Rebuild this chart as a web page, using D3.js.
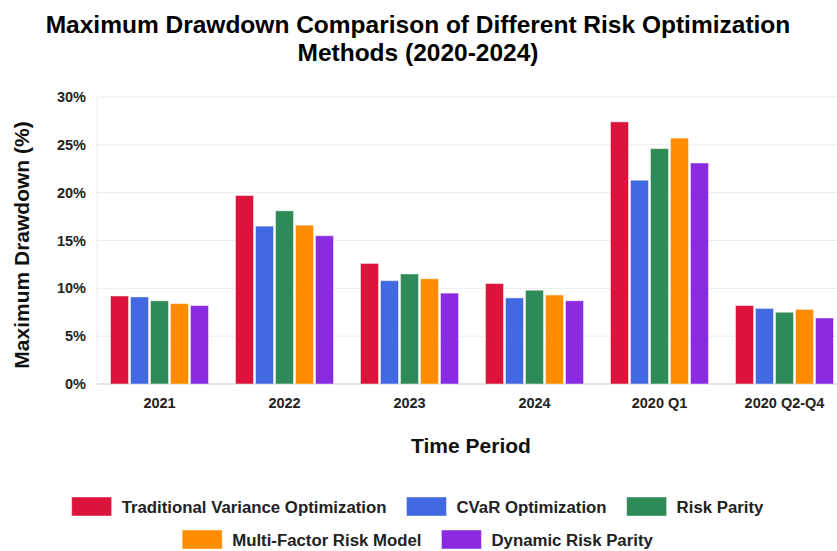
<!DOCTYPE html>
<html>
<head>
<meta charset="utf-8">
<script src="https://cdn.jsdelivr.net/npm/d3@7"></script>
<style>
  body { margin: 0; background: #fff; }
  svg { font-family: "Liberation Sans", Arial, sans-serif; }
</style>
</head>
<body>
<svg width="837" height="551"></svg>
<script>
let periods = ['2021', '2022', '2023', '2024', '2020 Q1', '2020 Q2-Q4']
let methods = ['Traditional Variance Optimization', 'CVaR Optimization', 'Risk Parity', 'Multi-Factor Risk Model', 'Dynamic Risk Parity']
let colors = ['#DC143C', '#4169E1', '#2E8B57', '#FF8C00', '#8A2BE2']

let traditional = [9.2, 19.7, 12.6, 10.5, 27.4, 8.2]
let cvar = [9.1, 16.5, 10.8, 9.0, 21.3, 7.9]
let riskParity = [8.7, 18.1, 11.5, 9.8, 24.6, 7.5]
let multiFactor = [8.4, 16.6, 11.0, 9.3, 25.7, 7.8]
let dynamicParity = [8.2, 15.5, 9.5, 8.7, 23.1, 6.9]
let yTicks = [0, 5, 10, 15, 20, 25, 30]

let series = [traditional, cvar, riskParity, multiFactor, dynamicParity]

let width = 837
let height = 551
let margin = { top: 97, bottom: 167, left: 97, right: 0 }

let svg = d3.select('svg')

// category band runs a little past the right edge, as in the original
let xScale = d3.scaleBand()
  .domain(periods)
  .range([margin.left, margin.left + 125 * periods.length])

let step = xScale.bandwidth()
let innerScale = d3.scaleBand()
  .domain(d3.range(methods.length))
  .range([step * 0.1, step * 0.9])
  .paddingInner(0.1)
  .paddingOuter(0.05)

let yScale = d3.scaleLinear()
  .domain([0, 30])
  .range([height - margin.bottom, margin.top])

// grid
svg.append('g')
  .selectAll('line')
  .data(yTicks)
  .enter()
  .append('line')
  .attr('x1', margin.left)
  .attr('x2', width - margin.right)
  .attr('y1', d => yScale(d))
  .attr('y2', d => yScale(d))
  .attr('stroke', d => d === 0 ? '#ddd' : '#ececec')
  .attr('stroke-width', d => d === 0 ? 1.5 : 1)

svg.append('line')
  .attr('x1', margin.left).attr('x2', margin.left)
  .attr('y1', margin.top).attr('y2', height - margin.bottom)
  .attr('stroke', '#ececec')

// bars
series.forEach((values, i) => {
  svg.append('g')
    .selectAll('rect')
    .data(values)
    .enter()
    .append('rect')
    .attr('x', (d, j) => xScale(periods[j]) + innerScale(i))
    .attr('width', innerScale.bandwidth())
    .attr('y', d => yScale(d))
    .attr('height', d => yScale(0) - yScale(d))
    .attr('fill', colors[i])
    .attr('stroke', 'rgba(255,255,255,0.45)')
    .attr('stroke-width', 1)
})

// axes
let yAxis = d3.axisLeft(yScale)
  .tickValues(yTicks)
  .tickFormat(d => d + '%')
  .tickSize(0)
  .tickPadding(11)

let yg = svg.append('g')
  .attr('transform', 'translate(' + [margin.left, 0] + ')')
  .call(yAxis)
yg.select('.domain').remove()
yg.selectAll('text')
  .attr('font-size', 14.5)
  .attr('font-weight', 'bold')
  .attr('fill', '#222')
  .attr('font-family', '"Liberation Sans", Arial, sans-serif')

let xAxis = d3.axisBottom(xScale)
  .tickSize(0)
  .tickPadding(14)

let xg = svg.append('g')
  .attr('transform', 'translate(' + [0, height - margin.bottom] + ')')
  .call(xAxis)
xg.select('.domain').remove()
xg.selectAll('text')
  .attr('font-size', 14.5)
  .attr('font-weight', 'bold')
  .attr('fill', '#222')
  .attr('font-family', '"Liberation Sans", Arial, sans-serif')

// titles
let title = svg.append('text')
  .attr('text-anchor', 'middle')
  .attr('font-size', 24.5)
  .attr('font-weight', 'bold')
  .attr('fill', '#000')
title.append('tspan').attr('x', 418).attr('y', 33)
  .text('Maximum Drawdown Comparison of Different Risk Optimization')
title.append('tspan').attr('x', 418).attr('y', 61)
  .text('Methods (2020-2024)')

svg.append('text')
  .attr('x', 471)
  .attr('y', 453)
  .attr('text-anchor', 'middle')
  .attr('font-size', 21)
  .attr('font-weight', 'bold')
  .attr('fill', '#111')
  .text('Time Period')

svg.append('text')
  .attr('transform', 'translate(29,245) rotate(-90)')
  .attr('text-anchor', 'middle')
  .attr('font-size', 21)
  .attr('font-weight', 'bold')
  .attr('fill', '#111')
  .text('Maximum Drawdown (%)')

// legend
let rows = [[0, 1, 2], [3, 4]]
let boxW = 40, boxH = 19, gap = 10, itemGap = 20, legendSize = 16.8
rows.forEach((row, r) => {
  let y = 497 + r * 33
  let widths = row.map(i => {
    let t = svg.append('text').attr('font-size', legendSize).attr('font-weight', 'bold').text(methods[i])
    let w = t.node().getComputedTextLength()
    t.remove()
    return boxW + gap + w
  })
  let total = d3.sum(widths) + itemGap * (row.length - 1)
  let x = 417.5 - total / 2
  row.forEach((i, k) => {
    svg.append('rect')
      .attr('x', x).attr('y', y)
      .attr('width', boxW).attr('height', boxH)
      .attr('fill', colors[i])
      .attr('stroke', 'rgba(255,255,255,0.45)')
    svg.append('text')
      .attr('x', x + boxW + gap)
      .attr('y', y + boxH / 2)
      .attr('dy', '0.36em')
      .attr('font-size', legendSize)
      .attr('font-weight', 'bold')
      .attr('fill', '#222')
      .text(methods[i])
    x += widths[k] + itemGap
  })
})
</script>
</body>
</html>
